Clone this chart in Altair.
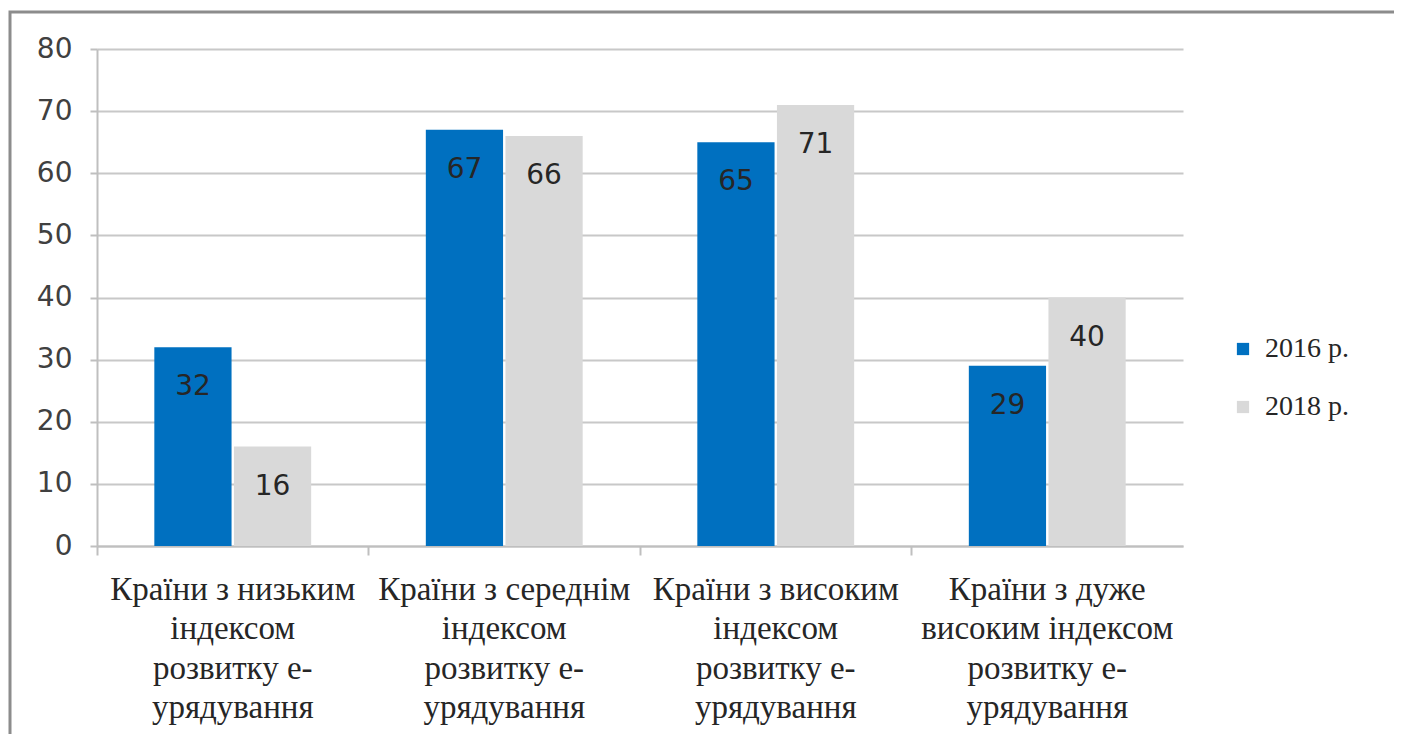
import altair as alt
import pandas as pd

categories = [
    "Країни з низьким|індексом|розвитку е-|урядування",
    "Країни з середнім|індексом|розвитку е-|урядування",
    "Країни з високим|індексом|розвитку е-|урядування",
    "Країни з дуже|високим індексом|розвитку е-|урядування",
]
years = ["2016 р.", "2018 р."]
values_2016 = [32, 67, 65, 29]
values_2018 = [16, 66, 71, 40]
colors = ["#0070C0", "#D9D9D9"]

rows = []
for c, v1, v2 in zip(categories, values_2016, values_2018):
    rows.append({"cat": c, "year": years[0], "value": v1})
    rows.append({"cat": c, "year": years[1], "value": v2})
df = pd.DataFrame(rows)

W, H = 1086, 497

x_enc = alt.X(
    "cat:N",
    sort=categories,
    scale=alt.Scale(paddingInner=0, paddingOuter=0),
    axis=alt.Axis(
        title=None,
        orient="bottom",
        labelAngle=0,
        labelExpr="split(datum.label, '|')",
        labelFont="Liberation Serif",
        labelFontSize=33,
        labelLineHeight=39.5,
        labelColor="#262626",
        labelPadding=27,
        labelLimit=0,
        labelOverlap=False,
        ticks=False,
        domainColor="#BFBFBF",
        domainWidth=2,
        grid=False,
    ),
)
xoff = alt.XOffset(
    "year:N", sort=years, scale=alt.Scale(paddingInner=0.03, paddingOuter=0.72)
)
y_enc = alt.Y(
    "value:Q",
    scale=alt.Scale(domain=[0, 80]),
    axis=alt.Axis(
        title=None,
        values=[0, 10, 20, 30, 40, 50, 60, 70, 80],
        labelFont="DejaVu Sans",
        labelFontSize=28,
        labelColor="#404040",
        labelPadding=18,
        tickSize=7,
        tickColor="#BFBFBF",
        tickWidth=2,
        domainColor="#BFBFBF",
        domainWidth=2,
        gridColor="#C8C8C8",
        gridWidth=2,
    ),
)

base = alt.Chart(df)

bars = base.mark_bar().encode(
    x=x_enc,
    xOffset=xoff,
    y=y_enc,
    color=alt.Color(
        "year:N",
        sort=years,
        scale=alt.Scale(domain=years, range=colors),
        legend=alt.Legend(
            title=None,
            orient="none",
            legendX=1132,
            legendY=286,
            symbolType="square",
            symbolSize=150,
            symbolStrokeWidth=0,
            labelFont="Liberation Serif",
            labelFontSize=28,
            labelColor="#262626",
            rowPadding=30,
            labelOffset=8,
        ),
    ),
)

labels = base.mark_text(
    font="DejaVu Sans", fontSize=28, color="#262626", baseline="middle", dy=40
).encode(
    x=alt.X("cat:N", sort=categories, axis=None),
    xOffset=alt.XOffset("year:N", sort=years),
    y=alt.Y("value:Q"),
    text=alt.Text("value:Q"),
)

ticks = base.mark_bar(opacity=0).encode(
    x=alt.X(
        "cat:N",
        sort=categories,
        axis=alt.Axis(
            title=None,
            orient="bottom",
            labels=False,
            domain=False,
            ticks=True,
            bandPosition=0,
            tickColor="#BFBFBF",
            tickWidth=2,
            tickSize=9,
            grid=False,
        ),
    ),
    y=alt.Y("value:Q"),
)

frame = alt.Chart(pd.DataFrame({"a": [0]})).mark_rect(
    fill=None, stroke="#8C8C8C", strokeWidth=3
).encode(
    x=alt.value(-87),
    x2=alt.value(1340),
    y=alt.value(-37),
    y2=alt.value(740),
)

chart = (
    alt.layer(bars, labels, ticks, frame)
    .resolve_axis(x="independent")
    .properties(
        width=W,
        height=H,
        padding={"left": 89, "top": 41, "right": 211, "bottom": 188},
        autosize=alt.AutoSizeParams(type="none"),
        background="white",
    )
    .configure_view(stroke=None)
)

chart.save("out.html", embed_options={"renderer": "svg", "actions": False})
